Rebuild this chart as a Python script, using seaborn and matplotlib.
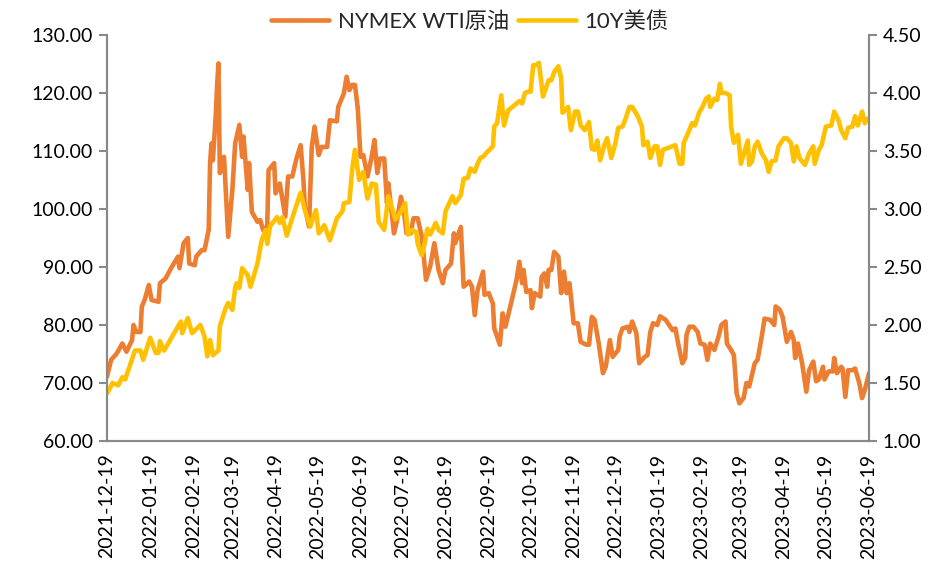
import pandas as pd
import numpy as np
import matplotlib
matplotlib.use("Agg")
import matplotlib.pyplot as plt
import matplotlib.dates as mdates
from matplotlib.ticker import FormatStrFormatter
import seaborn as sns

# ---- data ----
wti_dates = [
    "2021-12-19", "2021-12-22", "2021-12-26", "2021-12-30", "2022-01-02", "2022-01-06", "2022-01-07",
    "2022-01-09", "2022-01-12", "2022-01-13", "2022-01-15", "2022-01-18", "2022-01-20", "2022-01-25",
    "2022-01-26", "2022-01-30", "2022-02-03", "2022-02-08", "2022-02-09", "2022-02-12", "2022-02-15",
    "2022-02-16", "2022-02-20", "2022-02-21", "2022-02-25", "2022-02-27", "2022-03-02", "2022-03-03",
    "2022-03-04", "2022-03-05", "2022-03-07", "2022-03-08", "2022-03-09", "2022-03-10", "2022-03-13",
    "2022-03-16", "2022-03-19", "2022-03-21", "2022-03-24", "2022-03-26", "2022-03-27", "2022-03-30",
    "2022-03-31", "2022-04-02", "2022-04-06", "2022-04-08", "2022-04-10", "2022-04-13", "2022-04-14",
    "2022-04-18", "2022-04-19", "2022-04-22", "2022-04-26", "2022-04-28", "2022-05-01", "2022-05-04",
    "2022-05-07", "2022-05-09", "2022-05-10", "2022-05-13", "2022-05-15", "2022-05-17", "2022-05-20",
    "2022-05-22", "2022-05-26", "2022-05-28", "2022-06-02", "2022-06-03", "2022-06-07", "2022-06-09",
    "2022-06-11", "2022-06-13", "2022-06-15", "2022-06-17", "2022-06-19", "2022-06-21", "2022-06-24",
    "2022-06-27", "2022-06-29", "2022-07-01", "2022-07-03", "2022-07-06", "2022-07-08", "2022-07-09",
    "2022-07-13", "2022-07-15", "2022-07-18", "2022-07-20", "2022-07-22", "2022-07-25", "2022-07-27",
    "2022-07-30", "2022-08-02", "2022-08-05", "2022-08-08", "2022-08-11", "2022-08-14", "2022-08-17",
    "2022-08-19", "2022-08-23", "2022-08-25", "2022-08-26", "2022-08-30", "2022-09-01", "2022-09-05",
    "2022-09-07", "2022-09-09", "2022-09-11", "2022-09-15", "2022-09-16", "2022-09-19", "2022-09-22",
    "2022-09-23", "2022-09-27", "2022-09-29", "2022-10-01", "2022-10-05", "2022-10-09", "2022-10-11",
    "2022-10-13", "2022-10-14", "2022-10-16", "2022-10-19", "2022-10-20", "2022-10-22", "2022-10-26",
    "2022-10-27", "2022-10-29", "2022-10-31", "2022-11-01", "2022-11-03", "2022-11-05", "2022-11-08",
    "2022-11-10", "2022-11-12", "2022-11-14", "2022-11-16", "2022-11-19", "2022-11-22", "2022-11-24",
    "2022-11-28", "2022-11-30", "2022-12-02", "2022-12-04", "2022-12-07", "2022-12-10", "2022-12-12",
    "2022-12-15", "2022-12-17", "2022-12-21", "2022-12-22", "2022-12-24", "2022-12-28", "2022-12-29",
    "2022-12-31", "2023-01-03", "2023-01-05", "2023-01-09", "2023-01-11", "2023-01-13", "2023-01-15",
    "2023-01-18", "2023-01-20", "2023-01-24", "2023-01-29", "2023-01-31", "2023-02-02", "2023-02-05",
    "2023-02-07", "2023-02-08", "2023-02-10", "2023-02-13", "2023-02-16", "2023-02-18", "2023-02-21",
    "2023-02-23", "2023-02-25", "2023-02-28", "2023-03-03", "2023-03-05", "2023-03-08", "2023-03-09",
    "2023-03-12", "2023-03-14", "2023-03-16", "2023-03-18", "2023-03-21", "2023-03-23", "2023-03-25",
    "2023-03-29", "2023-03-31", "2023-04-03", "2023-04-05", "2023-04-09", "2023-04-12", "2023-04-13",
    "2023-04-16", "2023-04-18", "2023-04-21", "2023-04-24", "2023-04-26", "2023-04-27", "2023-04-29",
    "2023-05-02", "2023-05-05", "2023-05-07", "2023-05-10", "2023-05-12", "2023-05-14", "2023-05-17",
    "2023-05-18", "2023-05-21", "2023-05-24", "2023-05-25", "2023-05-27", "2023-05-30", "2023-05-31",
    "2023-06-02", "2023-06-04", "2023-06-07", "2023-06-09", "2023-06-12", "2023-06-14", "2023-06-16",
    "2023-06-19",
]
wti_values = [
    71.1, 74.0, 75.1, 76.8, 75.4, 77.4, 80.0,
    78.8, 78.8, 83.2, 84.3, 86.9, 84.3, 84.0,
    87.2, 88.0, 89.8, 91.8, 89.8, 94.1, 95.0,
    90.6, 90.3, 91.8, 92.9, 92.9, 96.4, 107.9,
    111.3, 108.4, 115.9, 121.1, 125.1, 106.2, 109.0,
    95.2, 103.3, 111.3, 114.5, 109.0, 112.5, 103.3,
    107.9, 99.5, 97.8, 98.1, 96.4, 97.0, 106.7,
    107.9, 102.7, 104.4, 98.7, 105.6, 105.6, 108.7,
    111.0, 105.0, 100.4, 97.0, 110.7, 114.2, 109.3,
    110.7, 110.7, 115.3, 115.1, 117.6, 119.9, 122.8,
    120.5, 121.4, 121.4, 117.4, 109.0, 109.3, 105.6,
    109.0, 111.9, 106.2, 108.7, 108.7, 101.0, 104.4,
    95.8, 97.8, 102.1, 99.8, 95.8, 95.8, 98.4,
    98.4, 95.2, 87.8, 90.1, 94.1, 89.5, 87.2,
    89.5, 90.6, 95.8, 94.1, 96.9, 86.6, 87.5,
    86.6, 81.7, 86.0, 89.2, 85.2, 85.5, 83.7,
    79.4, 76.6, 82.0, 79.7, 83.7, 87.8, 90.9,
    87.2, 89.5, 85.7, 86.0, 82.9, 85.5, 84.9,
    88.3, 88.9, 86.6, 89.5, 89.5, 92.6, 91.8,
    85.5, 89.2, 85.5, 87.2, 80.3, 80.3, 77.1,
    76.6, 76.6, 81.4, 80.9, 76.8, 71.7, 72.8,
    77.4, 74.5, 75.7, 78.0, 79.4, 79.7, 78.8,
    80.6, 78.6, 73.4, 74.5, 74.8, 78.8, 80.3,
    80.0, 81.5, 80.9, 79.1, 79.4, 76.8, 73.4,
    74.3, 78.3, 79.7, 79.7, 78.8, 76.8, 76.6,
    74.0, 76.8, 75.7, 78.0, 80.0, 80.6, 76.8,
    75.7, 74.8, 68.2, 66.5, 67.4, 70.0, 69.4,
    73.4, 74.0, 78.0, 81.1, 80.9, 80.0, 83.2,
    82.6, 81.4, 77.1, 78.8, 77.4, 74.3, 76.8,
    73.4, 68.5, 72.2, 73.7, 70.3, 70.6, 72.8,
    70.6, 72.0, 72.0, 74.3, 71.7, 72.8, 72.5,
    67.6, 72.2, 72.2, 72.5, 70.0, 67.4, 68.8,
    71.7,
]

ust_dates = [
    "2021-12-19", "2021-12-23", "2021-12-27", "2021-12-30", "2022-01-01", "2022-01-05", "2022-01-08",
    "2022-01-12", "2022-01-14", "2022-01-19", "2022-01-23", "2022-01-25", "2022-01-26", "2022-01-29",
    "2022-02-10", "2022-02-11", "2022-02-15", "2022-02-18", "2022-02-24", "2022-02-27", "2022-03-01",
    "2022-03-03", "2022-03-05", "2022-03-09", "2022-03-10", "2022-03-14", "2022-03-16", "2022-03-19",
    "2022-03-21", "2022-03-22", "2022-03-24", "2022-03-26", "2022-03-30", "2022-04-01", "2022-04-06",
    "2022-04-09", "2022-04-12", "2022-04-13", "2022-04-15", "2022-04-20", "2022-04-22", "2022-04-24",
    "2022-04-27", "2022-05-02", "2022-05-07", "2022-05-10", "2022-05-14", "2022-05-16", "2022-05-18",
    "2022-05-20", "2022-05-24", "2022-05-28", "2022-06-02", "2022-06-06", "2022-06-07", "2022-06-11",
    "2022-06-13", "2022-06-15", "2022-06-18", "2022-06-21", "2022-06-24", "2022-06-27", "2022-06-30",
    "2022-07-02", "2022-07-06", "2022-07-09", "2022-07-12", "2022-07-14", "2022-07-18", "2022-07-21",
    "2022-07-23", "2022-07-26", "2022-07-29", "2022-07-30", "2022-08-02", "2022-08-04", "2022-08-06",
    "2022-08-08", "2022-08-12", "2022-08-14", "2022-08-17", "2022-08-19", "2022-08-24", "2022-08-26",
    "2022-08-30", "2022-09-01", "2022-09-04", "2022-09-06", "2022-09-09", "2022-09-11", "2022-09-13",
    "2022-09-15", "2022-09-17", "2022-09-22", "2022-09-23", "2022-09-25", "2022-09-28", "2022-09-30",
    "2022-10-03", "2022-10-11", "2022-10-13", "2022-10-15", "2022-10-17", "2022-10-19", "2022-10-21",
    "2022-10-23", "2022-10-25", "2022-10-28", "2022-10-30", "2022-11-01", "2022-11-03", "2022-11-05",
    "2022-11-08", "2022-11-10", "2022-11-11", "2022-11-15", "2022-11-17", "2022-11-20", "2022-11-22",
    "2022-11-24", "2022-11-27", "2022-11-30", "2022-12-02", "2022-12-04", "2022-12-06", "2022-12-08",
    "2022-12-11", "2022-12-13", "2022-12-16", "2022-12-19", "2022-12-21", "2022-12-24", "2022-12-26",
    "2022-12-29", "2022-12-31", "2023-01-04", "2023-01-07", "2023-01-08", "2023-01-11", "2023-01-13",
    "2023-01-16", "2023-01-18", "2023-01-20", "2023-01-22", "2023-01-31", "2023-02-03", "2023-02-05",
    "2023-02-06", "2023-02-10", "2023-02-12", "2023-02-14", "2023-02-17", "2023-02-19", "2023-02-22",
    "2023-02-24", "2023-02-25", "2023-02-28", "2023-03-02", "2023-03-04", "2023-03-05", "2023-03-08",
    "2023-03-11", "2023-03-12", "2023-03-14", "2023-03-17", "2023-03-19", "2023-03-22", "2023-03-24",
    "2023-03-25", "2023-03-27", "2023-03-29", "2023-03-31", "2023-04-03", "2023-04-06", "2023-04-08",
    "2023-04-10", "2023-04-13", "2023-04-15", "2023-04-19", "2023-04-21", "2023-04-24", "2023-04-26",
    "2023-04-28", "2023-04-30", "2023-05-04", "2023-05-07", "2023-05-10", "2023-05-11", "2023-05-14",
    "2023-05-16", "2023-05-19", "2023-05-23", "2023-05-25", "2023-05-28", "2023-05-30", "2023-06-02",
    "2023-06-04", "2023-06-07", "2023-06-09", "2023-06-11", "2023-06-14", "2023-06-16", "2023-06-18",
]
ust_values = [
    1.41, 1.50, 1.48, 1.55, 1.53, 1.67, 1.78,
    1.78, 1.70, 1.89, 1.76, 1.76, 1.86, 1.78,
    2.03, 1.93, 2.06, 1.93, 2.00, 1.90, 1.73,
    1.87, 1.74, 1.78, 1.99, 2.14, 2.19, 2.13,
    2.32, 2.36, 2.32, 2.49, 2.43, 2.33, 2.53,
    2.73, 2.82, 2.70, 2.85, 2.93, 2.88, 2.93,
    2.77, 2.96, 3.14, 2.99, 2.85, 2.93, 2.99,
    2.79, 2.86, 2.73, 2.92, 2.98, 3.05, 3.06,
    3.34, 3.51, 3.25, 3.32, 3.09, 3.22, 3.21,
    2.89, 2.82, 3.11, 2.99, 2.91, 2.98, 3.05,
    2.78, 2.82, 2.80, 2.70, 2.60, 2.70, 2.83,
    2.78, 2.88, 2.82, 2.79, 2.98, 3.11, 3.05,
    3.12, 3.26, 3.27, 3.35, 3.32, 3.39, 3.44,
    3.45, 3.48, 3.54, 3.71, 3.74, 3.98, 3.72,
    3.85, 3.93, 3.91, 4.00, 4.01, 4.01, 4.24,
    4.24, 4.26, 3.97, 4.04, 4.11, 4.11, 4.18,
    4.23, 4.13, 3.83, 3.88, 3.68, 3.84, 3.84,
    3.72, 3.68, 3.75, 3.52, 3.51, 3.59, 3.42,
    3.55, 3.61, 3.44, 3.57, 3.70, 3.71, 3.77,
    3.88, 3.88, 3.80, 3.71, 3.55, 3.58, 3.44,
    3.54, 3.54, 3.38, 3.51, 3.55, 3.39, 3.39,
    3.57, 3.68, 3.74, 3.72, 3.83, 3.87, 3.95,
    3.97, 3.88, 3.95, 3.94, 4.08, 4.00, 4.00,
    3.98, 3.71, 3.57, 3.64, 3.39, 3.51, 3.59,
    3.38, 3.41, 3.54, 3.58, 3.48, 3.42, 3.32,
    3.41, 3.42, 3.54, 3.61, 3.61, 3.57, 3.41,
    3.54, 3.44, 3.38, 3.48, 3.54, 3.39, 3.51,
    3.55, 3.71, 3.72, 3.84, 3.77, 3.68, 3.61,
    3.70, 3.71, 3.80, 3.72, 3.84, 3.74, 3.78,
]

series_names = ["NYMEX WTI原油", "10Y美债"]
# ticks on the 19th of every month
x_tick_dates = pd.date_range("2021-12-01", "2023-06-01", freq="MS") + pd.Timedelta(days=18)
left_ticks = [60, 70, 80, 90, 100, 110, 120, 130]
right_ticks = [1.0, 1.5, 2.0, 2.5, 3.0, 3.5, 4.0, 4.5]

wti = pd.DataFrame({"date": pd.to_datetime(wti_dates), "value": wti_values})
ust = pd.DataFrame({"date": pd.to_datetime(ust_dates), "value": ust_values})

sns.set_style("white")
plt.rcParams["font.family"] = ["Lato", "Noto Sans CJK SC", "DejaVu Sans"]

ORANGE = "#ED7D31"
YELLOW = "#FFC000"
GRAY = "#898989"

fig = plt.figure(figsize=(9.4, 5.71), dpi=100)
ax = fig.add_axes([107 / 940, 1 - 441 / 571, (869 - 107) / 940, (441 - 35) / 571])
ax2 = ax.twinx()

sns.lineplot(data=wti, x="date", y="value", ax=ax, color=ORANGE, linewidth=3.3,
             label=series_names[0], legend=False)
sns.lineplot(data=ust, x="date", y="value", ax=ax2, color=YELLOW, linewidth=3.3,
             label=series_names[1], legend=False)

ax.set_xlim(pd.Timestamp("2021-12-19"), pd.Timestamp("2023-06-19"))
ax.set_ylim(60, 130)
ax2.set_ylim(1.0, 4.5)
ax.set_yticks(left_ticks)
ax2.set_yticks(right_ticks)
ax.yaxis.set_major_formatter(FormatStrFormatter("%.2f"))
ax2.yaxis.set_major_formatter(FormatStrFormatter("%.2f"))
ax.set_xticks(x_tick_dates)
ax.xaxis.set_major_formatter(mdates.DateFormatter("%Y-%m-%d"))
ax.set_xlabel("")
ax.set_ylabel("")
ax2.set_ylabel("")

for a in (ax, ax2):
    for side in ("left", "right", "bottom"):
        a.spines[side].set_visible(True)
        a.spines[side].set_color(GRAY)
        a.spines[side].set_linewidth(1.5)
    a.spines["top"].set_visible(False)
    a.tick_params(axis="both", which="major", direction="out", length=6, width=1.5,
                  color=GRAY, labelsize=14, labelcolor="black")
ax.tick_params(axis="x", rotation=90, pad=3)
ax2.tick_params(axis="y", pad=4)
ax.tick_params(axis="y", pad=4)

h1, l1 = ax.get_legend_handles_labels()
h2, l2 = ax2.get_legend_handles_labels()
fig.legend(h1 + h2, l1 + l2, loc="upper center", bbox_to_anchor=(0.5, 1.015), ncol=2,
           frameon=False, fontsize=16, handlelength=2.6, handletextpad=0.4,
           columnspacing=0.4)

fig.savefig("out.png", dpi=100)
